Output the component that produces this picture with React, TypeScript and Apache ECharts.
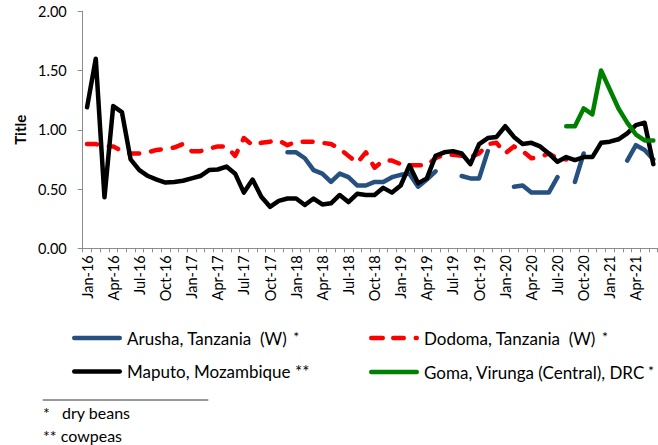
import React, { useEffect, useRef } from "react";
import * as echarts from "echarts";

const MONTHS = ["Jan", "Feb", "Mar", "Apr", "May", "Jun", "Jul", "Aug", "Sep", "Oct", "Nov", "Dec"];
const YEARS = ["16", "17", "18", "19", "20", "21"];
const LAST_MONTH_2021 = 6; // Jun-21
const categories: string[] = [];
YEARS.forEach((y, yi) => {
  const cnt = yi === YEARS.length - 1 ? LAST_MONTH_2021 : 12;
  for (let m = 0; m < cnt; m++) categories.push(`${MONTHS[m]}-${y}`);
});

const Y_TICKS = [0, 0.5, 1, 1.5, 2];

const ARUSHA = "Arusha, Tanzania  (W)";
const DODOMA = "Dodoma, Tanzania  (W)";
const MAPUTO = "Maputo, Mozambique";
const GOMA = "Goma, Virunga (Central), DRC";

const n = null;
// Jan-16 .. Jun-21 (66 months)
const arusha = [
  n, n, n, n, n, n, n, n, n, n, n, n,
  n, n, n, n, n, n, n, n, n, n, n, 0.81,
  0.81, 0.76, 0.66, 0.63, 0.56, 0.63, 0.60, 0.53, 0.53, 0.56, 0.56, 0.60,
  0.62, 0.63, 0.52, 0.58, 0.65, n, n, 0.61, 0.59, 0.59, 0.82, n,
  n, 0.52, 0.53, 0.47, 0.47, 0.47, 0.60, n, 0.56, 0.80, n, n,
  n, n, 0.74, 0.87, 0.83, 0.75,
];
const dodoma = [
  0.88, 0.88, 0.86, 0.86, 0.82, 0.80, 0.80, 0.81, 0.83, 0.84, 0.85, 0.88,
  0.82, 0.82, 0.84, 0.86, 0.86, 0.78, 0.93, 0.87, 0.89, 0.90, 0.91, 0.87,
  0.90, 0.90, 0.90, 0.89, 0.88, 0.84, 0.78, 0.72, 0.81, 0.68, 0.74, 0.74,
  0.71, 0.70, 0.70, 0.70, 0.76, 0.79, 0.79, 0.78, 0.77, 0.80, 0.88, 0.89,
  0.80, 0.86, 0.82, 0.76, 0.77, 0.80, 0.76, 0.75, n, n, n, n,
  n, n, n, n, n, n,
];
const maputo = [
  1.19, 1.60, 0.43, 1.20, 1.15, 0.75, 0.66, 0.61, 0.58, 0.555, 0.56, 0.57,
  0.59, 0.61, 0.66, 0.665, 0.69, 0.63, 0.47, 0.58, 0.435, 0.35, 0.40, 0.42,
  0.42, 0.365, 0.42, 0.37, 0.38, 0.45, 0.39, 0.46, 0.45, 0.45, 0.51, 0.47,
  0.53, 0.70, 0.55, 0.59, 0.78, 0.81, 0.82, 0.80, 0.71, 0.88, 0.93, 0.94,
  1.03, 0.94, 0.88, 0.89, 0.86, 0.80, 0.73, 0.77, 0.745, 0.77, 0.77, 0.89,
  0.90, 0.92, 0.97, 1.04, 1.06, 0.71,
];
const goma = [
  n, n, n, n, n, n, n, n, n, n, n, n,
  n, n, n, n, n, n, n, n, n, n, n, n,
  n, n, n, n, n, n, n, n, n, n, n, n,
  n, n, n, n, n, n, n, n, n, n, n, n,
  n, n, n, n, n, n, n, 1.03, 1.03, 1.18, 1.13, 1.50,
  1.34, 1.18, 1.06, 0.96, 0.91, 0.91,
];

const FONT = "Lato, 'Liberation Sans', sans-serif";

// rounded bar path helper for legend icons
const bar = (x0: number, x1: number, h: number) => {
  const r = h / 2;
  return `M${x0 + r},0H${x1 - r}A${r},${r} 0 0 1 ${x1 - r},${h}H${x0 + r}A${r},${r} 0 0 1 ${x0 + r},0Z`;
};
const SOLID_ICON = "path://" + bar(0, 50, 4.5);
const DASH_ICON = "path://" + bar(0, 16, 4.5) + bar(22, 37, 4.5) + bar(44.5, 50, 4.5);

export default function App() {
  const ref = useRef<HTMLDivElement>(null);
  useEffect(() => {
    document.body.style.margin = "0";
    const chart = echarts.init(ref.current!, null, { renderer: "svg" });
    const line = (name: string, data: (number | null)[], color: string, dashed = false) => ({
      name,
      type: "line",
      data,
      symbol: "none",
      connectNulls: false,
      lineStyle: {
        color,
        width: 4.5,
        join: "round",
        cap: "round",
        type: dashed ? [10, 12] : "solid",
      },
      itemStyle: { color },
    });
    const legendFormatter = (name: string) =>
      name === MAPUTO ? `{t|${name} **}` : name === GOMA ? `{t|${name}} {s|*}` : `{t|${name}}  {s|*}`;
    const legendBase = {
      orient: "vertical",
      top: 324,
      itemWidth: 50,
      itemHeight: 4.5,
      itemGap: 12,
      selectedMode: false,
      formatter: legendFormatter,
      textStyle: {
        fontFamily: FONT,
        rich: {
          t: { fontSize: 17, fontFamily: FONT, color: "#000", lineHeight: 18 },
          s: { fontSize: 14, fontFamily: FONT, color: "#000", verticalAlign: "top", lineHeight: 18, padding: [0, 0, 8, 0] },
        },
      },
    };
    chart.setOption({
      animation: false,
      backgroundColor: "#fff",
      textStyle: { fontFamily: FONT },
      grid: { left: 82.7, top: 11.3, right: 0.3, bottom: 196.7, containLabel: false },
      legend: [
        { ...legendBase, left: 67, data: [{ name: ARUSHA, icon: SOLID_ICON }, { name: MAPUTO, icon: SOLID_ICON }] },
        { ...legendBase, left: 364, data: [{ name: DODOMA, icon: DASH_ICON }, { name: GOMA, icon: SOLID_ICON }] },
      ],
      xAxis: {
        type: "category",
        data: categories,
        boundaryGap: true,
        axisLine: { lineStyle: { color: "#8c8c8c", width: 1 } },
        axisTick: { show: true, interval: 0, length: 4, lineStyle: { color: "#8c8c8c" } },
        axisLabel: {
          interval: 2,
          rotate: 90,
          fontSize: 14.5,
          fontFamily: FONT,
          color: "#000",
          margin: 7,
        },
        splitLine: { show: false },
      },
      yAxis: {
        type: "value",
        min: Y_TICKS[0],
        max: Y_TICKS[Y_TICKS.length - 1],
        interval: 0.5,
        name: "Title",
        nameLocation: "middle",
        nameGap: 54,
        nameTextStyle: { fontWeight: "bold", fontSize: 15, fontFamily: FONT, color: "#000" },
        axisLine: { show: true, lineStyle: { color: "#8c8c8c", width: 1 } },
        axisTick: { show: true, length: 5, lineStyle: { color: "#8c8c8c" } },
        axisLabel: {
          formatter: (v: number) => v.toFixed(2),
          fontSize: 14.5,
          fontFamily: FONT,
          color: "#000",
          margin: 16,
        },
        splitLine: { show: false },
      },
      series: [
        line(ARUSHA, arusha, "#25507f"),
        line(DODOMA, dodoma, "#ff0000", true),
        line(MAPUTO, maputo, "#000000"),
        line(GOMA, goma, "#008000"),
      ],
      graphic: [
        { type: "line", shape: { x1: 42.7, y1: 400, x2: 208.3, y2: 400 }, style: { stroke: "#333", lineWidth: 1 } },
        { type: "text", left: 43, top: 404, style: { text: "*   dry beans", fontSize: 16, fontFamily: FONT, fill: "#000" } },
        { type: "text", left: 43, top: 427, style: { text: "** cowpeas", fontSize: 16, fontFamily: FONT, fill: "#000" } },
      ],
    });
    return () => chart.dispose();
  }, []);
  return <div ref={ref} style={{ position: "absolute", left: 0, top: 0, width: 658, height: 445 }} />;
}
